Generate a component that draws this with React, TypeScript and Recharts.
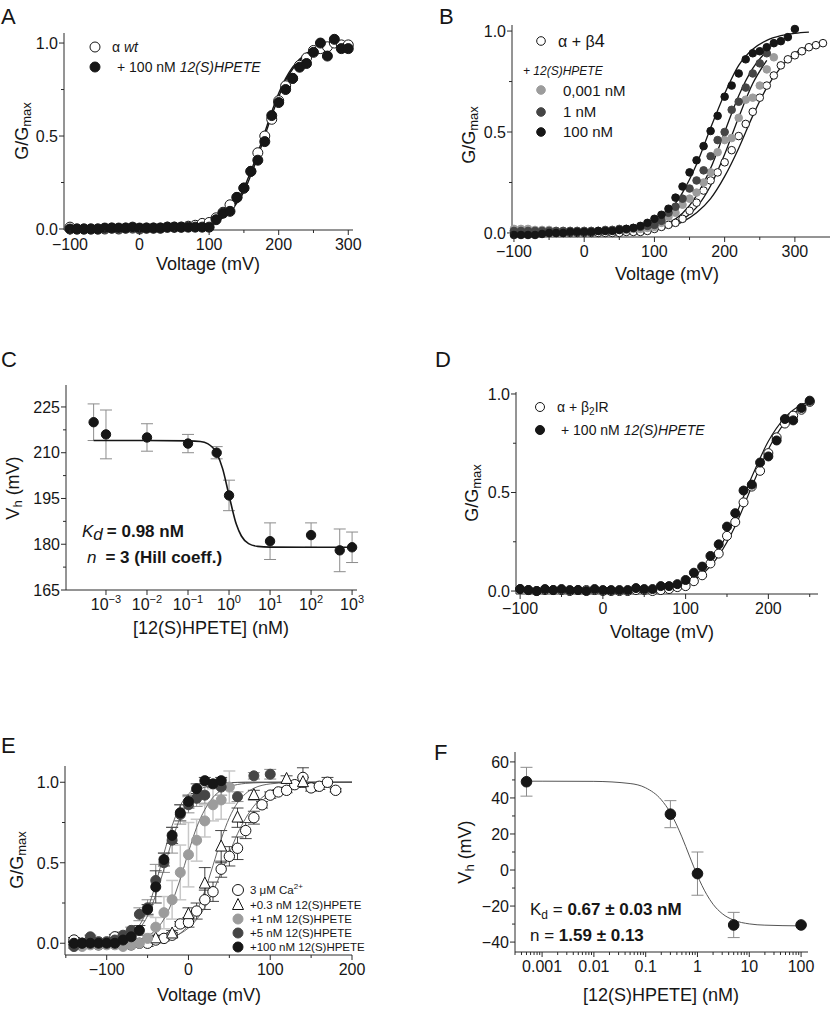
import React from 'react';
import { ComposedChart, Scatter, Line, XAxis, YAxis, ErrorBar } from 'recharts';

const FONT = '"Liberation Sans", Arial, Helvetica, sans-serif';
const INK = '#161616';
const AXIS = '#2a2a2a';
const LIGHT = '#9c9c9c';
const DARK = '#454545';
const ERR = '#8c8c8c';
const FIT_GREY = '#555555';

// ---------- A: alpha wt +/- 12(S)HPETE ----------
const voltA = [-100, -90, -80, -70, -60, -50, -40, -30, -20, -10, 0, 10, 20, 30, 40, 50, 60, 70, 80, 90, 100, 110, 120, 130, 140, 150, 160, 170, 180, 190, 200, 210, 220, 230, 240, 250, 260, 270, 280, 290, 300];
const gWtA = [0.01, 0, 0, 0, 0, 0, 0.005, 0, 0.005, 0.005, 0, 0.005, 0.005, 0.005, 0.01, 0.01, 0.01, 0.015, 0.02, 0.03, 0.035, 0.06, 0.09, 0.13, 0.17, 0.22, 0.31, 0.41, 0.5, 0.59, 0.69, 0.77, 0.81, 0.88, 0.92, 0.96, 0.97, 0.98, 1.0, 0.99, 0.99];
const gHpeteA = [0, 0, 0, 0, 0, 0.005, 0.005, 0.005, 0.005, 0.01, 0.005, 0.005, 0.005, 0.005, 0.01, 0.01, 0.01, 0.01, 0.01, 0.01, 0.01, 0.05, 0.085, 0.095, 0.17, 0.22, 0.31, 0.37, 0.47, 0.61, 0.68, 0.75, 0.81, 0.87, 0.89, 0.95, 1.0, 0.93, 1.02, 0.97, 0.97];
const fitVoltA = [-100, -50, 0, 50, 80, 100, 110, 120, 130, 140, 150, 160, 170, 180, 190, 200, 210, 220, 240, 260, 280, 300];
const fitWtA = [0, 0, 0.0003, 0.0027, 0.011, 0.026, 0.04, 0.061, 0.092, 0.14, 0.2, 0.29, 0.39, 0.5, 0.61, 0.71, 0.8, 0.86, 0.94, 0.974, 0.989, 0.996];
const fitHpeteA = [0, 0, 0.0003, 0.003, 0.013, 0.028, 0.044, 0.068, 0.1, 0.15, 0.22, 0.31, 0.41, 0.52, 0.63, 0.73, 0.81, 0.87, 0.945, 0.977, 0.99, 0.996];

// ---------- B: alpha + beta4, three concentrations ----------
const voltB = [-100, -90, -80, -70, -60, -50, -40, -30, -20, -10, 0, 10, 20, 30, 40, 50, 60, 70, 80, 90, 100, 110, 120, 130, 140, 150, 160, 170, 180, 190, 200, 210, 220, 230, 240, 250, 260, 270, 280, 290, 300, 310, 320, 330, 340];
const gB4 = [0.01, 0.01, 0.01, 0, 0, 0, 0, 0, 0, 0, 0, 0, 0, 0, 0, 0, 0.005, 0.005, 0.005, 0.01, 0.02, 0.03, 0.04, 0.05, 0.07, 0.11, 0.15, 0.21, 0.26, 0.3, 0.35, 0.41, 0.48, 0.54, 0.6, 0.67, 0.73, 0.78, 0.83, 0.86, 0.88, 0.9, 0.92, 0.93, 0.94];
const gB4Low = [0.02, 0.02, 0.02, 0.015, 0.015, 0.015, 0.01, 0.01, 0.01, 0.01, 0.01, 0.01, 0.01, 0.01, 0.015, 0.015, 0.015, 0.02, 0.02, 0.025, 0.03, 0.05, 0.08, 0.1, 0.14, 0.17, 0.2, 0.25, 0.3, 0.4, 0.46, 0.47, 0.57, 0.66, 0.67, 0.73, 0.81, 0.87];
const gB4Mid = [0.01, 0.01, 0.01, 0.01, 0.01, 0.01, 0.01, 0.01, 0.01, 0.01, 0.01, 0.01, 0.01, 0.015, 0.015, 0.02, 0.02, 0.025, 0.03, 0.035, 0.04, 0.06, 0.1, 0.13, 0.17, 0.22, 0.26, 0.31, 0.38, 0.46, 0.5, 0.61, 0.65, 0.72, 0.79, 0.84, 0.89];
const gB4High = [-0.01, -0.01, -0.01, -0.01, -0.005, 0, 0, 0, 0.005, 0.005, 0.005, 0.005, 0.01, 0.01, 0.01, 0.015, 0.02, 0.025, 0.035, 0.05, 0.07, 0.09, 0.12, 0.175, 0.23, 0.3, 0.36, 0.43, 0.505, 0.58, 0.675, 0.73, 0.79, 0.86, 0.89, 0.9, 0.92, 0.94, 0.95, 0.97, 1.01];
const fitVoltB = [-100, -50, 0, 50, 80, 100, 120, 140, 160, 180, 200, 220, 240, 260, 280, 300, 320, 340];
const fitB4 = [0, 0.0001, 0.0004, 0.003, 0.008, 0.015, 0.03, 0.055, 0.1, 0.17, 0.28, 0.42, 0.58, 0.72, 0.82, 0.89, 0.925, 0.945];
const fitB4Low = [0, 0, 0.0004, 0.0025, 0.0075, 0.016, 0.032, 0.065, 0.127, 0.234, 0.39, 0.573, 0.74, 0.855];
const fitB4Mid = [0, 0.0001, 0.0006, 0.0039, 0.012, 0.024, 0.049, 0.098, 0.185, 0.32, 0.5, 0.68, 0.815, 0.902];
const fitB4High = [0, 0.0002, 0.0014, 0.0086, 0.026, 0.053, 0.105, 0.2, 0.34, 0.52, 0.69, 0.83, 0.91, 0.954, 0.977, 0.989, 0.995];

// ---------- C: Vh vs concentration ----------
const concC = [0.0005, 0.001, 0.01, 0.1, 0.5, 1, 10, 100, 500, 1000];
const vhC = [220, 216, 215, 213, 210, 196, 181, 183, 178, 179];
const vhErrC = [6, 8, 4.5, 3, 2, 5, 6, 4, 7, 5];
const fitConcC = [0.0005, 0.001, 0.01, 0.1, 0.2, 0.3, 0.5, 0.7, 1, 1.5, 2, 3, 5, 10, 100, 1000];
const fitVhC = [214, 214, 214, 213.9, 213.7, 213, 209.9, 204.7, 196, 186.6, 182.7, 180.2, 179.3, 179.05, 179, 179];

// ---------- D: alpha + beta2IR ----------
const voltD = [-100, -90, -80, -70, -60, -50, -40, -30, -20, -10, 0, 10, 20, 30, 40, 50, 60, 70, 80, 90, 100, 110, 120, 130, 140, 150, 160, 170, 180, 190, 200, 210, 220, 230, 240, 250];
const gB2 = [0.01, 0.005, 0, 0.005, 0.005, 0.005, 0, 0.005, 0.005, 0.005, 0, 0, 0, 0, 0.005, 0.005, 0, 0.005, 0.01, 0.02, 0.025, 0.05, 0.08, 0.14, 0.19, 0.28, 0.35, 0.45, 0.53, 0.61, 0.7, 0.78, 0.85, 0.89, 0.92, 0.96];
const gB2Hpete = [0.01, 0.005, 0, 0.01, 0.005, 0.01, 0.005, 0.005, 0, 0.01, 0.005, 0.005, 0.005, 0.005, 0.015, 0.01, 0.01, 0.025, 0.025, 0.035, 0.056, 0.093, 0.124, 0.178, 0.237, 0.327, 0.395, 0.51, 0.54, 0.652, 0.683, 0.764, 0.873, 0.866, 0.929, 0.966];
const fitVoltD = [-100, -50, 0, 50, 80, 100, 120, 140, 160, 180, 200, 220, 240, 250];
const fitB2 = [0, 0.0001, 0.0006, 0.005, 0.017, 0.039, 0.086, 0.18, 0.33, 0.53, 0.72, 0.855, 0.93, 0.954];
const fitB2Hpete = [0, 0.0001, 0.0008, 0.006, 0.021, 0.047, 0.1, 0.21, 0.38, 0.58, 0.76, 0.88, 0.945, 0.962];

// ---------- E: 3 uM Ca2+ and concentrations ----------
const voltE = [-140, -130, -120, -110, -100, -90, -80, -70, -60, -50, -40, -30, -20, -10, 0, 10, 20, 30, 40, 50, 60, 70, 80, 90, 100, 110, 120, 130, 140, 150, 160, 170, 180];
const gCa = [0.02, 0, 0, -0.01, 0, 0.04, -0.01, -0.01, 0, 0, 0.02, 0.03, 0.05, 0.12, 0.13, 0.2, 0.27, 0.32, 0.46, 0.54, 0.59, 0.7, 0.78, 0.86, 0.92, 0.94, 0.95, 0.985, 1.03, 0.965, 0.975, 1.0, 0.95];
const gCaErr = [0.015, 0.015, 0.015, 0.015, 0.015, 0.015, 0.015, 0.015, 0.015, 0.02, 0.015, 0.015, 0.015, 0.015, 0.03, 0.05, 0.06, 0.06, 0.05, 0.06, 0.07, 0.05, 0.04, 0.02, 0.02, 0.015, 0.015, 0.015, 0.06, 0.02, 0.02, 0.03, 0.01];
const voltTri = [-40, -20, 0, 20, 40, 60, 80, 120, 140];
const gTri = [0.03, 0.06, 0.18, 0.37, 0.6, 0.78, 0.92, 1.02, 1.0];
const gTriErr = [0.02, 0.02, 0.04, 0.1, 0.1, 0.06, 0.03, 0.02, 0.03];
const gCa1 = [-0.02, -0.02, -0.01, -0.01, -0.01, -0.01, -0.02, -0.01, 0, 0.03, 0.1, 0.19, 0.27, 0.44, 0.55, 0.64, 0.76, 0.86, 0.89, 0.97];
const gCa1Err = [0.01, 0.01, 0.01, 0.01, 0.01, 0.01, 0.01, 0.01, 0.02, 0.03, 0.06, 0.1, 0.12, 0.17, 0.2, 0.13, 0.1, 0.1, 0.12, 0.1];
const volt5 = [-140, -130, -120, -110, -100, -90, -80, -70, -60, -50, -40, -30, -20, -10, 0, 10, 20, 40, 60, 80, 100];
const gCa5 = [-0.02, 0, 0.04, 0.01, 0.01, 0.02, 0.05, 0.08, 0.18, 0.22, 0.39, 0.5, 0.64, 0.8, 0.86, 0.9, 0.92, 0.97, 0.91, 1.04, 1.05];
const gCa5Err = [0.01, 0.01, 0.01, 0.01, 0.01, 0.01, 0.02, 0.02, 0.04, 0.05, 0.1, 0.06, 0.08, 0.06, 0.05, 0.05, 0.05, 0.05, 0.03, 0.02, 0.03];
const gCa100 = [0, 0, 0, 0, 0, 0, 0.02, 0.04, 0.08, 0.21, 0.35, 0.52, 0.67, 0.81, 0.88, 0.96, 1.01, 0.99, 1.01];
const gCa100Err = [0.01, 0.01, 0.01, 0.01, 0.01, 0.01, 0.01, 0.02, 0.03, 0.03, 0.1, 0.04, 0.05, 0.05, 0.04, 0.03, 0.02, 0.02, 0.02];
const fitVoltE = [-140, -120, -100, -90, -80, -70, -60, -50, -40, -30, -20, -10, 0, 10, 20, 30, 40, 50, 60, 70, 80, 90, 100, 120, 140, 160, 180, 200];
const fitCa = [0.0001, 0.0003, 0.0007, 0.0012, 0.0019, 0.003, 0.005, 0.0086, 0.014, 0.023, 0.037, 0.06, 0.095, 0.148, 0.223, 0.32, 0.44, 0.56, 0.68, 0.777, 0.852, 0.905, 0.94, 0.977, 0.991, 0.997, 0.999, 1];
const fitTri = [0, 0, 0.0002, 0.0003, 0.0006, 0.0012, 0.0023, 0.0045, 0.0087, 0.017, 0.032, 0.062, 0.112, 0.198, 0.325, 0.483, 0.646, 0.78, 0.873, 0.93, 0.963, 0.981, 0.99, 0.997, 0.999, 1, 1, 1];
const fitCa1 = [0.0001, 0.0004, 0.0017, 0.0036, 0.006, 0.013, 0.023, 0.044, 0.083, 0.15, 0.256, 0.4, 0.566, 0.72, 0.83, 0.906, 0.95, 0.973, 0.986, 0.993, 0.996, 0.998, 0.999, 1, 1, 1, 1, 1];
const fitCa5 = [0.0003, 0.0018, 0.006, 0.012, 0.024, 0.047, 0.092, 0.17, 0.3, 0.46, 0.64, 0.78, 0.88, 0.94, 0.97, 0.985, 0.993, 0.997, 0.999, 1, 1, 1, 1, 1, 1, 1, 1, 1];
const fitCa100 = [0.0003, 0.0012, 0.006, 0.012, 0.026, 0.055, 0.111, 0.213, 0.37, 0.557, 0.73, 0.855, 0.927, 0.965, 0.983, 0.992, 0.996, 0.998, 0.999, 1, 1, 1, 1, 1, 1, 1, 1, 1];

// ---------- F: Vh vs concentration (Ca2+) ----------
const concF = [0.0005, 0.3, 1, 5, 100];
const vhF = [49, 31, -2, -30.5, -30.5];
const vhErrF = [8, 7.5, 12, 7, 0];
const fitConcF = [0.0005, 0.001, 0.01, 0.05, 0.1, 0.2, 0.3, 0.5, 0.7, 1, 1.5, 2, 3, 5, 10, 20, 100];
const fitVhF = [49.3, 49.3, 49.2, 48, 45.6, 39, 31.8, 18.4, 7.75, -3.2, -13.5, -19, -24.2, -27.8, -29.9, -30.6, -31];

// ---------- ticks ----------
const voltTicks = [-100, -50, 0, 50, 100, 150, 200, 250, 300];
const voltMajors = [-100, 0, 100, 200, 300];
const voltTicksD = [-100, -50, 0, 50, 100, 150, 200, 250];
const voltTicksE = [-150, -100, -50, 0, 50, 100, 150, 200];
const gTicks = [0, 0.25, 0.5, 0.75, 1];
const gMajors = [0, 0.5, 1];
const concTicksC = [0.001, 0.01, 0.1, 1, 10, 100, 1000];
const vhTicksC = [165, 172.5, 180, 187.5, 195, 202.5, 210, 217.5, 225];
const vhMajorsC = [165, 180, 195, 210, 225];
const concMajorsF = [0.001, 0.01, 0.1, 1, 10, 100];
const concLabelsF = ['0.001', '0.01', '0.1', '1', '10', '100'];
const vhTicksF = [-40, -30, -20, -10, 0, 10, 20, 30, 40, 50, 60];
const vhMajorsF = [-40, -20, 0, 20, 40, 60];

const domF: [number, number] = [0.0003, 136];
const concTicksF: number[] = [];
for (let d = -4; d <= 2; d++) {
  for (let m = 1; m <= 9; m++) {
    const v = m * Math.pow(10, d);
    if (v >= domF[0] && v <= domF[1]) concTicksF.push(v);
  }
}

type Pt = { x: number; y: number; e: number };
const pts = (xs: number[], ys: number[], es?: number[]): Pt[] =>
  ys.map((y, i) => ({ x: xs[i], y, e: es ? es[i] : 0 }));

const near = (a: number, b: number) => Math.abs(a - b) <= Math.abs(b) * 1e-6 + 1e-9;

const TICK_FS = 16;
const minus = (s: string) => s.replace('-', '\u2212');

const xTick = (majors: number[], fmt: (v: number) => React.ReactNode) => (p: any) => {
  const v = p.payload.value;
  const big = majors.some((m) => near(v, m));
  return (
    <g>
      <line x1={p.x} x2={p.x} y1={p.y} y2={p.y + (big ? 5 : 3)} stroke={AXIS} />
      {big && (
        <text x={p.x} y={p.y + 20} textAnchor="middle" fontSize={TICK_FS} fontFamily={FONT} fill={INK}>
          {fmt(v)}
        </text>
      )}
    </g>
  );
};

const yTick = (majors: number[], fmt: (v: number) => React.ReactNode) => (p: any) => {
  const v = p.payload.value;
  const big = majors.some((m) => near(v, m));
  return (
    <g>
      <line x1={p.x} x2={p.x - (big ? 5 : 3)} y1={p.y} y2={p.y} stroke={AXIS} />
      {big && (
        <text x={p.x - 6} y={p.y} dy="0.36em" textAnchor="end" fontSize={TICK_FS} fontFamily={FONT} fill={INK}>
          {fmt(v)}
        </text>
      )}
    </g>
  );
};

const fmtInt = (v: number) => minus(String(v));
const fmtG = (v: number) => v.toFixed(1);
const fmtPow = (v: number) => (
  <>
    <tspan>10</tspan>
    <tspan fontSize={11} dy={-7}>{minus(String(Math.round(Math.log10(v))))}</tspan>
  </>
);
const fmtConcF = (v: number) => concLabelsF[concMajorsF.findIndex((m) => near(v, m))];

const dot = (r: number, fill: string, stroke = INK) => (p: any) => (
  <circle cx={p.cx} cy={p.cy} r={r} fill={fill} stroke={stroke} strokeWidth={1} />
);
const tri = (s: number) => (p: any) => (
  <path
    d={`M${p.cx},${p.cy - s * 0.6}L${p.cx - s / 2},${p.cy + s * 0.4}L${p.cx + s / 2},${p.cy + s * 0.4}Z`}
    fill="#fff"
    stroke={INK}
    strokeWidth={1}
  />
);

type Box = { x0: number; y0: number; x1: number; y1: number };
const PAD_L = 60;
const PAD_T = 14;
const PAD_B = 32;
const PAD_R = 24;

function Frame({ box, children }: { box: Box; children: React.ReactNode }) {
  return (
    <div style={{ position: 'absolute', left: box.x0 - PAD_L, top: box.y0 - PAD_T }}>
      <ComposedChart
        width={box.x1 - box.x0 + PAD_L + PAD_R}
        height={box.y1 - box.y0 + PAD_T + PAD_B}
        margin={{ top: PAD_T, right: PAD_R, bottom: 0, left: 0 }}
      >
        {children}
      </ComposedChart>
    </div>
  );
}

const xAxis = (domain: number[], ticks: number[], majors: number[], fmt: (v: number) => React.ReactNode, log = false) => (
  <XAxis
    type="number"
    dataKey="x"
    domain={domain}
    ticks={ticks}
    interval={0}
    scale={log ? 'log' : 'linear'}
    height={PAD_B}
    tickSize={0}
    tickMargin={0}
    tickLine={false}
    stroke={AXIS}
    tick={xTick(majors, fmt)}
  />
);

const yAxis = (domain: number[], ticks: number[], majors: number[], fmt: (v: number) => React.ReactNode) => (
  <YAxis
    type="number"
    dataKey="y"
    domain={domain}
    ticks={ticks}
    interval={0}
    width={PAD_L}
    tickSize={0}
    tickMargin={0}
    tickLine={false}
    stroke={AXIS}
    tick={yTick(majors, fmt)}
  />
);

const fit = (xs: number[], ys: number[], stroke: string, w: number) => (
  <Line
    data={pts(xs, ys)}
    dataKey="y"
    type="monotone"
    stroke={stroke}
    strokeWidth={w}
    dot={false}
    activeDot={false}
    isAnimationActive={false}
  />
);

const boxA: Box = { x0: 64, y0: 33, x1: 353, y1: 230 };
const boxB: Box = { x0: 512, y0: 25, x1: 830, y1: 237 };
const boxC: Box = { x0: 66, y0: 385, x1: 357, y1: 590 };
const boxD: Box = { x0: 516, y0: 392, x1: 818, y1: 594 };
const boxE: Box = { x0: 65, y0: 766, x1: 352, y1: 955 };
const boxF: Box = { x0: 515, y0: 752, x1: 808, y1: 952 };

const T = (props: any) => <text fontFamily={FONT} fill={INK} {...props} />;

function Overlay() {
  const ylab = (cx: number, cy: number, content: React.ReactNode) => (
    <T transform={`translate(${cx},${cy}) rotate(-90)`} textAnchor="middle" dominantBaseline="central" fontSize={18}>
      {content}
    </T>
  );
  const gLabel = (
    <>
      G/G<tspan fontSize={13} dy={4}>max</tspan>
    </>
  );
  const vLabel = (
    <>
      V<tspan fontSize={13} dy={4}>h</tspan>
      <tspan dy={-4}> (mV)</tspan>
    </>
  );
  return (
    <svg width={830} height={1009} style={{ position: 'absolute', left: 0, top: 0, pointerEvents: 'none' }}>
      {/* panel letters */}
      <T x={1} y={24} fontSize={22}>A</T>
      <T x={439} y={24} fontSize={22}>B</T>
      <T x={1} y={367} fontSize={22}>C</T>
      <T x={435} y={367} fontSize={22}>D</T>
      <T x={1} y={753} fontSize={22}>E</T>
      <T x={434} y={760} fontSize={22}>F</T>

      {/* axis titles */}
      {ylab(22, 131, gLabel)}
      {ylab(469, 135, gLabel)}
      {ylab(13, 488, vLabel)}
      {ylab(472, 493, gLabel)}
      {ylab(17, 860, gLabel)}
      {ylab(465, 852, vLabel)}
      <T x={208} y={270} textAnchor="middle" fontSize={18}>Voltage (mV)</T>
      <T x={667} y={280} textAnchor="middle" fontSize={18}>Voltage (mV)</T>
      <T x={211} y={634} textAnchor="middle" fontSize={18}>[12(S)HPETE] (nM)</T>
      <T x={662} y={638} textAnchor="middle" fontSize={18}>Voltage (mV)</T>
      <T x={209} y={1001} textAnchor="middle" fontSize={18}>Voltage (mV)</T>
      <T x={661} y={1001} textAnchor="middle" fontSize={18}>[12(S)HPETE] (nM)</T>

      {/* legend A */}
      <circle cx={95} cy={47} r={5} fill="#fff" stroke={INK} />
      <T x={112} y={52} fontSize={14}>
        α <tspan fontStyle="italic">wt</tspan>
      </T>
      <circle cx={95} cy={67} r={5} fill={INK} stroke={INK} />
      <T x={117} y={72} fontSize={14}>
        + 100 nM <tspan fontStyle="italic">12(S)HPETE</tspan>
      </T>

      {/* legend B */}
      <circle cx={541} cy={41} r={4.3} fill="#fff" stroke={INK} />
      <T x={558} y={47} fontSize={16}>
        α + β<tspan fontSize={18}>4</tspan>
      </T>
      <T x={523} y={75} fontSize={12} fontStyle="italic">+ 12(S)HPETE</T>
      <circle cx={541} cy={90} r={4.3} fill={LIGHT} stroke={LIGHT} />
      <T x={563} y={96} fontSize={15}>0,001 nM</T>
      <circle cx={541} cy={112} r={4.3} fill={DARK} stroke={DARK} />
      <T x={563} y={117} fontSize={15}>1 nM</T>
      <circle cx={541} cy={132} r={4.3} fill={INK} stroke={INK} />
      <T x={563} y={137} fontSize={15}>100 nM</T>

      {/* annotation C */}
      <T x={82} y={537} fontSize={17}>
        <tspan fontStyle="italic">K</tspan>
        <tspan fontStyle="italic" dy={3}>d</tspan>
        <tspan dy={-3} fontWeight="bold" dx={4}>= 0.98 nM</tspan>
      </T>
      <T x={87} y={563} fontSize={17}>
        <tspan fontStyle="italic">n</tspan>
        <tspan fontWeight="bold" dx={9}>= 3 (Hill coeff.)</tspan>
      </T>

      {/* legend D */}
      <circle cx={540} cy={407} r={4.5} fill="#fff" stroke={INK} />
      <T x={557} y={412} fontSize={14}>
        α + β<tspan fontSize={10} dy={3}>2</tspan>
        <tspan dy={-3}>IR</tspan>
      </T>
      <circle cx={540} cy={430} r={4.5} fill={INK} stroke={INK} />
      <T x={561} y={435} fontSize={14}>
        + 100 nM <tspan fontStyle="italic">12(S)HPETE</tspan>
      </T>

      {/* legend E */}
      <circle cx={238} cy={890} r={5.5} fill="#fff" stroke={INK} />
      <T x={250} y={894} fontSize={11.5}>
        3 μM Ca<tspan fontSize={8} dy={-5}>2+</tspan>
      </T>
      <path d="M238,898.5L232.5,909.5L243.5,909.5Z" fill="#fff" stroke={INK} />
      <T x={250} y={909} fontSize={11.5}>+0.3 nM 12(S)HPETE</T>
      <circle cx={238} cy={919} r={5} fill={LIGHT} stroke={LIGHT} />
      <T x={250} y={923} fontSize={11.5}>+1 nM 12(S)HPETE</T>
      <circle cx={238} cy={933} r={5} fill={DARK} stroke={DARK} />
      <T x={250} y={937} fontSize={11.5}>+5 nM 12(S)HPETE</T>
      <circle cx={238} cy={947} r={5} fill={INK} stroke={INK} />
      <T x={250} y={951} fontSize={11.5}>+100 nM 12(S)HPETE</T>

      {/* annotation F */}
      <T x={530} y={915} fontSize={17}>
        K<tspan fontSize={12} dy={4}>d</tspan>
        <tspan dy={-4}> = </tspan>
        <tspan fontWeight="bold">0.67 ± 0.03 nM</tspan>
      </T>
      <T x={530} y={941} fontSize={17}>
        n = <tspan fontWeight="bold">1.59 ± 0.13</tspan>
      </T>
    </svg>
  );
}

export default function App() {
  return (
    <div style={{ position: 'absolute', left: 0, top: 0, width: 830, height: 1009, overflow: 'hidden', background: '#fff' }}>
      {/* A */}
      <Frame box={boxA}>
        {xAxis([-108.6, 306.8], voltTicks, voltMajors, fmtInt)}
        {yAxis([-0.0054, 1.054], gTicks, gMajors, fmtG)}
        <Scatter data={pts(voltA, gWtA)} dataKey="y" shape={dot(5, '#fff')} isAnimationActive={false} />
        <Scatter data={pts(voltA, gHpeteA)} dataKey="y" shape={dot(5, INK)} isAnimationActive={false} />
        {fit(fitVoltA, fitWtA, INK, 1.4)}
        {fit(fitVoltA, fitHpeteA, INK, 1.4)}
      </Frame>

      {/* B */}
      <Frame box={boxB}>
        {xAxis([-102.8, 350], voltTicks, voltMajors, fmtInt)}
        {yAxis([-0.02, 1.03], gTicks, gMajors, fmtG)}
        <Scatter data={pts(voltB, gB4)} dataKey="y" shape={dot(3.8, '#fff')} isAnimationActive={false} />
        <Scatter data={pts(voltB, gB4Low)} dataKey="y" shape={dot(3.8, LIGHT, LIGHT)} isAnimationActive={false} />
        <Scatter data={pts(voltB, gB4Mid)} dataKey="y" shape={dot(3.8, DARK, DARK)} isAnimationActive={false} />
        <Scatter data={pts(voltB, gB4High)} dataKey="y" shape={dot(3.8, INK)} isAnimationActive={false} />
        {fit(fitVoltB, fitB4, INK, 1.3)}
        {fit(fitVoltB, fitB4Low, INK, 1.3)}
        {fit(fitVoltB, fitB4Mid, INK, 1.3)}
        {fit(fitVoltB, fitB4High, INK, 1.3)}
      </Frame>

      {/* C */}
      <Frame box={boxC}>
        {xAxis([0.000106, 1318], concTicksC, concTicksC, fmtPow, true)}
        {yAxis([165, 232.2], vhTicksC, vhMajorsC, fmtInt)}
        <Scatter data={pts(concC, vhC, vhErrC)} dataKey="y" shape={dot(4.7, INK)} isAnimationActive={false}>
          <ErrorBar dataKey="e" direction="y" width={6} stroke={ERR} strokeWidth={1} />
        </Scatter>
        {fit(fitConcC, fitVhC, INK, 1.6)}
      </Frame>

      {/* D */}
      <Frame box={boxD}>
        {xAxis([-105, 260], voltTicksD, voltMajors, fmtInt)}
        {yAxis([-0.015, 1.01], gTicks, gMajors, fmtG)}
        <Scatter data={pts(voltD, gB2)} dataKey="y" shape={dot(4.5, '#fff')} isAnimationActive={false} />
        <Scatter data={pts(voltD, gB2Hpete)} dataKey="y" shape={dot(4.5, INK)} isAnimationActive={false} />
        {fit(fitVoltD, fitB2, INK, 1.2)}
        {fit(fitVoltD, fitB2Hpete, INK, 1.2)}
      </Frame>

      {/* E */}
      <Frame box={boxE}>
        {xAxis([-151, 200], voltTicksE, voltMajors, fmtInt)}
        {yAxis([-0.073, 1.101], gTicks, gMajors, fmtG)}
        <Scatter data={pts(voltE, gCa, gCaErr)} dataKey="y" shape={dot(5.2, '#fff')} isAnimationActive={false}>
          <ErrorBar dataKey="e" direction="y" width={6} stroke={INK} strokeWidth={0.8} />
        </Scatter>
        <Scatter data={pts(voltTri, gTri, gTriErr)} dataKey="y" shape={tri(11)} isAnimationActive={false}>
          <ErrorBar dataKey="e" direction="y" width={6} stroke={INK} strokeWidth={0.8} />
        </Scatter>
        <Scatter data={pts(voltE, gCa1, gCa1Err)} dataKey="y" shape={dot(5, LIGHT, LIGHT)} isAnimationActive={false}>
          <ErrorBar dataKey="e" direction="y" width={6} stroke="#c8c8c8" strokeWidth={1.5} />
        </Scatter>
        <Scatter data={pts(volt5, gCa5, gCa5Err)} dataKey="y" shape={dot(5, DARK, DARK)} isAnimationActive={false}>
          <ErrorBar dataKey="e" direction="y" width={6} stroke={ERR} strokeWidth={1} />
        </Scatter>
        <Scatter data={pts(voltE, gCa100, gCa100Err)} dataKey="y" shape={dot(5, INK)} isAnimationActive={false}>
          <ErrorBar dataKey="e" direction="y" width={6} stroke={DARK} strokeWidth={1} />
        </Scatter>
        {fit(fitVoltE, fitCa, FIT_GREY, 0.9)}
        {fit(fitVoltE, fitTri, FIT_GREY, 0.9)}
        {fit(fitVoltE, fitCa1, FIT_GREY, 0.9)}
        {fit(fitVoltE, fitCa5, FIT_GREY, 0.9)}
        {fit(fitVoltE, fitCa100, FIT_GREY, 0.9)}
      </Frame>

      {/* F */}
      <Frame box={boxF}>
        {xAxis(domF, concTicksF, concMajorsF, fmtConcF, true)}
        {yAxis([-45.5, 65.5], vhTicksF, vhMajorsF, fmtInt)}
        <Scatter data={pts(concF, vhF, vhErrF)} dataKey="y" shape={dot(5.3, INK)} isAnimationActive={false}>
          <ErrorBar dataKey="e" direction="y" width={6} stroke={ERR} strokeWidth={1} />
        </Scatter>
        {fit(fitConcF, fitVhF, FIT_GREY, 1)}
      </Frame>

      <Overlay />
    </div>
  );
}
